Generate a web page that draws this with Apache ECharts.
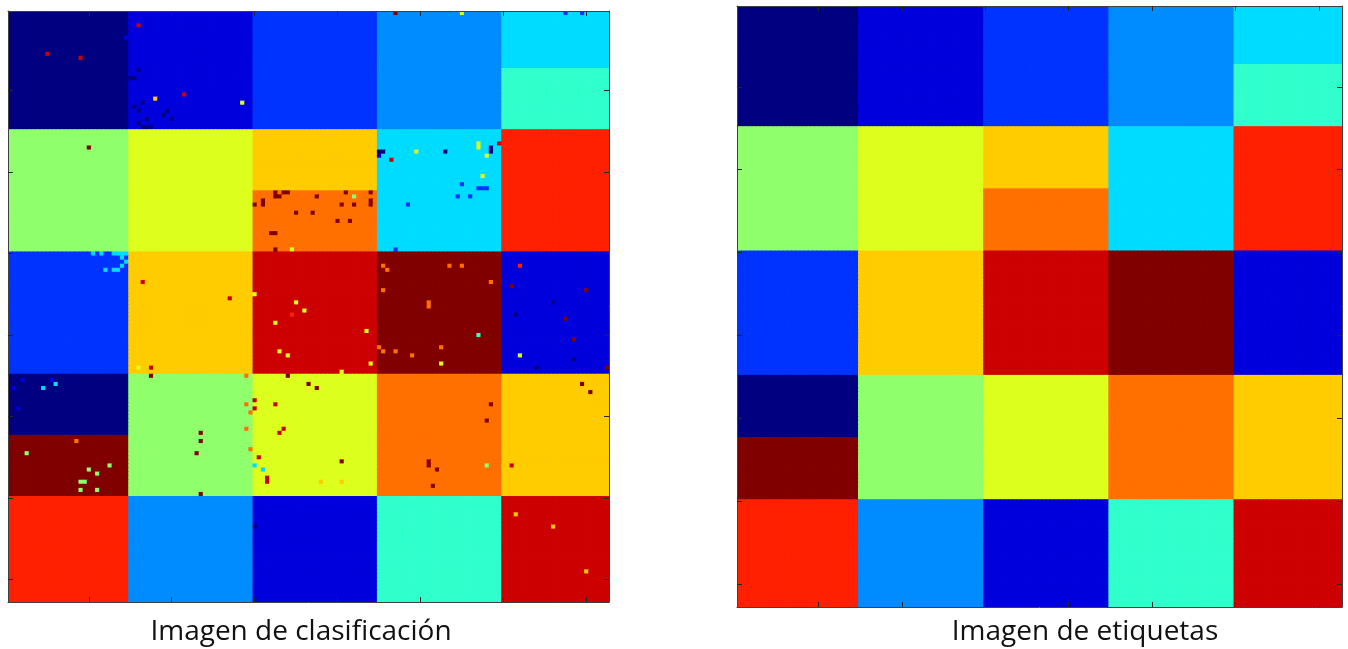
<!DOCTYPE html>
<html>
<head>
<meta charset="utf-8">
<script src="https://cdn.jsdelivr.net/npm/echarts@6/dist/echarts.min.js"></script>
<style>
html,body{margin:0;padding:0;background:#fff;}
#chart{width:1348px;height:649px;}
</style>
</head>
<body>
<div id="chart"></div>
<script>
// ---------------- DATA ----------------
const imageSize = 145;                       // pixels per side
const tickValues = [20, 40, 60, 80, 100, 120, 140];
const titles = ['Imagen de clasificación', 'Imagen de etiquetas'];

// class colours (jet-like), index = class id
const classColors = [null,
  '#000080', '#0000DC', '#0033FF', '#008CFF', '#00DCFF', '#30FFCC', '#90FF6C',
  '#DDFF1E', '#FFCC00', '#FF7000', '#FF2000', '#CC0000', '#800000'];

// block edges (pixel index) along rows and columns
const blockEdges = [0, 29, 59, 89, 119, 145];
// class of each block [blockRow][blockCol]
const blockLabels = [
  [1, 2, 3, 4, 5],
  [7, 8, 9, 5, 11],
  [3, 9, 12, 13, 2],
  [1, 7, 8, 10, 9],
  [11, 4, 2, 6, 12]
];
// split blocks: [blockRow, blockCol, firstRowOfLowerPart, lowerClass]
const splitBlocks = [
  [0, 4, 14, 6],
  [1, 2, 44, 10],
  [3, 0, 104, 13]
];
// misclassified pixels in the classification image: [col, row, class]
const noisePixels = [
  [9,10,12],[17,11,12],[31,3,12],[28,6,2],[31,14,1],[29,16,1],[30,16,1],[35,21,9],[42,20,12],
  [32,22,1],[30,23,1],[31,24,1],[38,24,1],[37,25,1],[33,26,1],[39,26,1],[31,27,1],[32,28,1],
  [33,28,1],[34,28,1],[19,33,13],
  [93,0,13],[56,22,8],[89,34,1],[90,34,1],[89,35,2],[92,36,12],[96,47,3],
  [64,44,13],[64,45,13],[65,45,13],[66,44,13],[67,44,13],[74,45,13],[81,44,13],[83,45,7],
  [87,44,13],[59,47,13],[61,46,13],[61,47,13],[80,47,13],[83,47,13],[87,46,13],[87,47,13],
  [69,49,13],[73,49,13],[79,51,13],[82,51,13],[63,54,13],[64,54,13],[64,58,13],[68,58,8],[93,58,3],
  [109,0,8],[134,0,3],[138,0,3],[98,34,8],[105,34,1],[113,32,8],[113,33,8],[116,33,1],[116,34,1],
  [118,32,12],[115,35,8],[114,40,8],[109,42,3],[113,43,3],[114,43,3],[115,43,3],[108,45,3],[111,45,3],
  [20,59,5],[22,59,5],[25,59,5],[26,59,5],[27,59,5],[28,59,5],[27,60,5],[28,61,5],[27,62,5],
  [23,63,5],[25,63,5],[26,63,5],
  [32,66,12],[31,87,8],[34,87,12],[34,89,13],
  [3,90,2],[10,90,2],[11,91,5],[8,92,5],[1,92,2],[2,97,2],
  [16,105,10],[4,108,7],[19,112,7],[21,113,7],[24,111,7],[17,115,7],[18,115,7],[17,117,7],[21,117,7],
  [46,103,13],[46,105,13],[45,108,13],[46,118,13],
  [53,70,12],[59,69,8],[69,71,8],[71,73,8],[68,74,11],[64,76,8],[86,78,8],[65,83,8],[67,84,8],
  [87,86,8],[80,88,8],
  [90,62,10],[91,63,10],[90,68,10],[89,82,10],[90,83,10],[93,83,10],[97,84,10],
  [57,89,10],[57,96,10],
  [67,89,13],[72,91,13],[74,92,13],[59,95,12],[64,96,12],[59,97,12],
  [58,98,10],[57,102,10],[66,102,12],[65,103,12],[58,107,10],[60,109,12],[59,111,5],[61,112,5],
  [62,114,12],[62,115,12],[80,110,13],[75,115,9],[80,115,9],[59,126,1],
  [116,96,13],[115,100,13],[101,110,13],[101,111,13],[103,112,13],[102,116,13],[115,111,7],
  [121,111,12],[138,91,13],[140,93,13],[122,123,9],[131,126,9],[139,137,9],
  [106,62,10],[109,62,10],[116,66,10],[101,71,10],[101,72,10],[113,79,6],[104,82,10],[104,86,8],
  [123,62,11],[121,67,13],[139,68,13],[131,71,1],[122,74,1],[134,75,13],[136,80,13],[123,84,8],
  [136,85,1],[127,87,1],[144,87,13]
];

// ---------------- BUILD ----------------
function blockIndex(i) {
  for (let b = 0; b < blockEdges.length - 1; b++) {
    if (i >= blockEdges[b] && i < blockEdges[b + 1]) return b;
  }
  return blockEdges.length - 2;
}
function buildMatrix(withNoise) {
  const m = [];
  for (let r = 0; r < imageSize; r++) {
    const row = [];
    const br = blockIndex(r);
    for (let c = 0; c < imageSize; c++) {
      const bc = blockIndex(c);
      let cls = blockLabels[br][bc];
      splitBlocks.forEach(s => { if (s[0] === br && s[1] === bc && r >= s[2]) cls = s[3]; });
      row.push(cls);
    }
    m.push(row);
  }
  if (withNoise) noisePixels.forEach(p => { m[p[1]][p[0]] = p[2]; });
  return m;
}
function toData(m) {
  const d = [];
  for (let r = 0; r < imageSize; r++)
    for (let c = 0; c < imageSize; c++) d.push([c + 1, r + 1, m[r][c]]);
  return d;
}
const classData = toData(buildMatrix(true));
const labelData = toData(buildMatrix(false));

function renderCell(params, api) {
  const p = api.coord([api.value(0), api.value(1)]);
  const s = api.size([1, 1]);
  return {
    type: 'rect',
    shape: { x: p[0] - s[0] / 2, y: p[1] - s[1] / 2, width: s[0] + 0.8, height: s[1] + 0.8 },
    style: { fill: classColors[api.value(2)] },
    silent: true
  };
}

function makeAxis(gridIndex, position, isY) {
  return {
    type: 'value', gridIndex: gridIndex, position: position,
    min: 0.5, max: imageSize + 0.5, inverse: !!isY, z: 10,
    axisLine: { show: true, onZero: false, lineStyle: { color: '#404040', width: 1 } },
    axisTick: { show: true, inside: true, length: 5, customValues: tickValues,
                lineStyle: { color: '#262626', width: 1 } },
    axisLabel: { show: false },
    splitLine: { show: false }
  };
}

const chart = echarts.init(document.getElementById('chart'), null, { renderer: 'canvas' });
chart.setOption({
  animation: false,
  backgroundColor: '#ffffff',
  grid: [
    { left: 8, top: 11, width: 601, height: 591 },
    { left: 737, top: 6, width: 605, height: 601 }
  ],
  xAxis: [makeAxis(0, 'bottom'), makeAxis(0, 'top'), makeAxis(1, 'bottom'), makeAxis(1, 'top')],
  yAxis: [makeAxis(0, 'left', true), makeAxis(0, 'right', true), makeAxis(1, 'left', true), makeAxis(1, 'right', true)],
  series: [
    { type: 'custom', xAxisIndex: 0, yAxisIndex: 0, data: classData, renderItem: renderCell,
      clip: true, progressive: 0, silent: true },
    { type: 'custom', xAxisIndex: 2, yAxisIndex: 2, data: labelData, renderItem: renderCell,
      clip: true, progressive: 0, silent: true }
  ],
  graphic: [
    { type: 'text', x: 301, y: 632, style: { text: titles[0], fill: '#111', font: '28px "Open Sans"',
      align: 'center', verticalAlign: 'middle' } },
    { type: 'text', x: 1085, y: 632, style: { text: titles[1], fill: '#111', font: '28px "Open Sans"',
      align: 'center', verticalAlign: 'middle' } }
  ]
});
</script>
</body>
</html>
